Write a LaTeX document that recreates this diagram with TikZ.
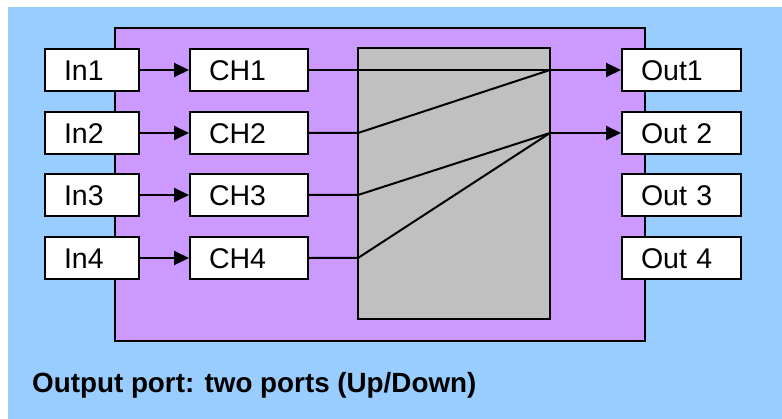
\documentclass[tikz,border=0pt]{standalone}
\usepackage{fontspec}
\setmainfont{Liberation Sans}
\usetikzlibrary{arrows.meta}
\definecolor{bgblue}{HTML}{99CCFF}
\definecolor{boxpurple}{HTML}{CC99FF}
\definecolor{boxgray}{HTML}{C0C0C0}
\begin{document}
\begin{tikzpicture}[x=1pt,y=-1pt,
  lbl/.style={draw=black,line width=2pt,fill=white,minimum height=42pt,inner ysep=0pt,
    inner xsep=19pt,align=left,text height=20.5pt,text depth=0pt,
    font=\fontsize{28.5}{30}\selectfont},
  inbox/.style={lbl,text width=56pt},
  chbox/.style={lbl,text width=80pt},
  outbox/.style={lbl,text width=81pt},
  wire/.style={line width=2pt,draw=black},
  arr/.style={wire,-{Triangle[length=15pt,width=14pt]}}]
\useasboundingbox (0,0) rectangle (782,419);
\fill[white] (0,0) rectangle (782,419);
\fill[bgblue] (8,7) rectangle (782,419);
\draw[line width=2pt,fill=boxpurple] (115,28) rectangle (645,341);
\draw[line width=2pt,fill=boxgray] (358,48) rectangle (550,319);
\coordinate (gl) at (358,48);
\coordinate (gr) at (550,48);
% inputs
\node[inbox] (in1) at (92,70) {In1};
\node[inbox] (in2) at (92,133) {In2};
\node[inbox] (in3) at (92,195) {In3};
\node[inbox] (in4) at (92,258) {In4};
% channels
\node[chbox] (ch1) at (249,70) {CH1};
\node[chbox] (ch2) at (249,133) {CH2};
\node[chbox] (ch3) at (249,195) {CH3};
\node[chbox] (ch4) at (249,258) {CH4};
% outputs
\node[outbox] (out1) at (681.5,70) {Out1};
\node[outbox] (out2) at (681.5,133) {Out 2};
\node[outbox] (out3) at (681.5,195) {Out 3};
\node[outbox] (out4) at (681.5,258) {Out 4};
% arrows in -> ch
\foreach \i in {1,2,3,4} \draw[arr] (in\i) -- (ch\i);
% switch junctions
\coordinate (j1) at (gr |- out1);
\coordinate (j2) at (gr |- out2);
\coordinate (k2) at (gl |- ch2);
\coordinate (k3) at (gl |- ch3);
\coordinate (k4) at (gl |- ch4);
\draw[wire] (ch1) -- (j1);
\draw[arr] (j1) -- (out1);
\draw[arr] (j2) -- (out2);
\draw[wire,line join=round] (ch2) -- (k2) -- (j1);
\draw[wire,line join=round] (ch3) -- (k3) -- (j2);
\draw[wire,line join=round] (ch4) -- (k4) -- (j2);
\node[anchor=base west,inner sep=0pt,font=\fontsize{27.8}{30}\selectfont\bfseries] (cap) at (32,393) {Output port: two ports (Up/Down)};
\end{tikzpicture}
\end{document}
